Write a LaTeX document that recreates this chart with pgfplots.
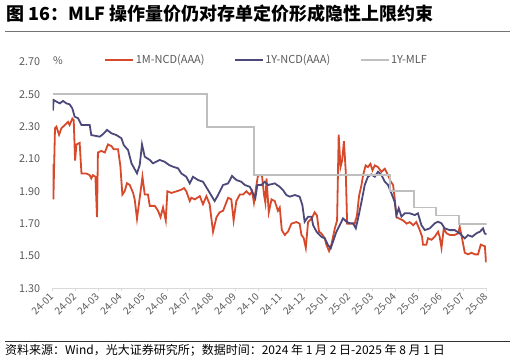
\documentclass[border=0pt]{standalone}
\usepackage{fontspec}
\setmainfont{Noto Sans CJK SC}
\usepackage{pgfplots}
\pgfplotsset{compat=1.18}
\definecolor{ncdred}{RGB}{214,74,43}
\definecolor{ncdnavy}{RGB}{76,73,122}
\definecolor{mlfgray}{RGB}{191,191,191}
\definecolor{txtgray}{RGB}{89,89,89}
\definecolor{axgray}{RGB}{217,217,217}

\pgfplotstableread{
x y
0.00 2.07
0.03 1.85
0.10 2.29
0.16 2.30
0.28 2.25
0.38 2.29
0.53 2.31
0.67 2.33
0.74 2.31
0.86 2.35
0.92 2.34
0.98 2.09
1.04 2.19
1.18 2.20
1.26 2.01
1.48 2.01
1.62 2.00
1.69 1.98
1.76 2.00
1.87 1.99
1.94 1.74
1.98 2.14
2.13 2.15
2.28 2.14
2.42 2.19
2.57 2.18
2.67 2.16
2.86 2.16
2.96 2.06
3.05 1.88
3.15 1.90
3.25 1.95
3.37 1.94
3.52 1.89
3.59 1.85
3.69 1.73
3.81 1.86
3.93 1.99
4.03 1.88
4.17 1.88
4.25 1.81
4.47 1.81
4.61 1.78
4.72 1.74
4.83 1.80
4.95 1.72
5.02 1.90
5.20 1.89
5.42 1.90
5.63 1.91
5.75 1.92
5.85 1.90
6.00 1.84
6.07 1.86
6.22 1.85
6.44 1.87
6.58 1.82
6.73 1.87
6.87 1.82
7.02 1.65
7.17 1.74
7.31 1.77
7.46 1.78
7.68 1.86
7.82 1.85
7.92 1.72
8.04 1.84
8.19 1.88
8.33 1.88
8.48 1.90
8.63 1.88
8.73 1.90
8.81 1.83
8.92 1.94
8.99 2.00
9.16 2.00
9.25 1.88
9.31 1.83
9.36 1.98
9.46 1.77
9.58 1.85
9.72 1.84
9.86 1.78
9.94 1.80
10.03 1.66
10.16 1.63
10.30 1.65
10.45 1.70
10.67 1.71
10.81 1.70
10.89 1.63
10.99 1.61
11.08 1.55
11.18 1.71
11.33 1.73
11.47 1.77
11.57 1.75
11.66 1.65
11.76 1.64
11.91 1.61
11.98 1.57
12.10 1.53
12.20 1.57
12.35 1.67
12.45 1.72
12.52 2.25
12.60 2.05
12.67 2.09
12.75 2.21
12.83 2.02
12.89 1.70
13.08 1.70
13.22 1.70
13.32 1.75
13.41 1.87
13.52 1.94
13.59 2.00
13.70 2.06
13.80 2.05
13.91 2.07
14.00 2.03
14.10 2.06
14.24 2.05
14.39 2.02
14.54 2.04
14.68 2.00
14.80 1.96
14.90 1.94
14.97 1.86
15.05 1.74
15.19 1.73
15.34 1.72
15.49 1.70
15.63 1.71
15.78 1.69
15.92 1.71
16.07 1.66
16.17 1.62
16.21 1.57
16.36 1.57
16.43 1.61
16.58 1.60
16.73 1.62
16.87 1.65
16.94 1.62
17.02 1.55
17.12 1.67
17.24 1.64
17.38 1.63
17.60 1.63
17.75 1.64
17.82 1.68
17.92 1.61
18.04 1.52
18.18 1.51
18.33 1.52
18.48 1.51
18.62 1.51
18.74 1.57
18.92 1.56
18.97 1.46
}\onem

\pgfplotstableread{
x y
0.01 2.40
0.04 2.465
0.16 2.455
0.31 2.444
0.45 2.459
0.60 2.444
0.74 2.438
0.86 2.413
0.96 2.362
1.11 2.352
1.26 2.31
1.62 2.31
1.69 2.248
2.06 2.238
2.20 2.253
2.38 2.28
2.57 2.259
2.79 2.248
3.01 2.228
3.11 2.186
3.30 2.155
3.45 2.073
3.69 2.011
3.81 2.063
3.91 2.19
4.03 2.114
4.25 2.094
4.39 2.073
4.68 2.094
4.90 2.083
5.09 2.063
5.27 2.052
5.49 2.042
5.63 2.011
5.85 1.99
6.00 1.949
6.14 1.99
6.36 1.97
6.58 1.959
6.80 1.908
7.09 1.84
7.24 1.877
7.46 1.939
7.68 1.949
7.85 1.995
8.04 1.97
8.26 1.959
8.41 1.939
8.63 1.928
8.77 1.887
8.87 1.857
8.96 1.939
9.14 1.939
9.28 1.959
9.43 1.939
9.72 1.949
9.94 1.928
10.08 1.908
10.23 1.877
10.38 1.867
10.60 1.877
10.81 1.867
10.93 1.815
11.03 1.712
11.18 1.743
11.33 1.743
11.40 1.691
11.55 1.65
11.76 1.619
11.91 1.609
12.05 1.568
12.17 1.547
12.27 1.588
12.42 1.65
12.57 1.691
12.71 1.733
12.86 1.712
13.00 1.702
13.15 1.702
13.27 1.671
13.37 1.733
13.52 1.836
13.66 1.939
13.80 1.99
13.95 2.005
14.10 1.99
14.24 2.021
14.39 2.001
14.54 1.959
14.68 1.939
14.83 1.887
14.97 1.836
15.05 1.753
15.15 1.795
15.27 1.743
15.41 1.764
15.63 1.764
15.85 1.753
15.99 1.764
16.14 1.691
16.29 1.66
16.51 1.671
16.73 1.702
16.87 1.712
17.02 1.702
17.16 1.671
17.38 1.66
17.60 1.66
17.82 1.64
18.04 1.609
18.18 1.629
18.36 1.619
18.55 1.64
18.70 1.65
18.84 1.671
18.91 1.64
18.99 1.634
}\oney

\pgfplotstableread{
x y
0.01 2.50
6.77 2.30
8.80 2.00
14.77 1.90
15.80 1.80
16.78 1.75
17.77 1.70
19.00 1.70
}\mlf

\begin{document}
\begin{tikzpicture}[x=1pt,y=1pt]
\path[use as bounding box] (0,0) rectangle (515,364);
\node[anchor=base west, font=\fontsize{18}{20}\selectfont\bfseries, inner sep=0] at (6,343) {图 16：MLF 操作量价仍对存单定价形成隐性上限约束};
\draw[color=black!55, line width=0.8pt] (5,333) -- (510,333);
\draw[color=black!80, line width=0.8pt] (5,22.3) -- (510,22.3);
\node[anchor=base west, font=\fontsize{12}{14}\selectfont, inner sep=0] at (5,9) {资料来源：Wind，光大证券研究所；数据时间：2024 年 1 月 2 日-2025 年 8 月 1 日};
\node[anchor=west, text=txtgray, font=\fontsize{10.5}{12}\selectfont, inner sep=0] at (53,303.7) {\%};
\begin{axis}[
  at={(52.7pt,75.7pt)}, anchor=south west, scale only axis,
  width=434pt, height=226.3pt,
  xmin=0, xmax=19, ymin=1.3, ymax=2.7,
  axis x line*=bottom, axis y line*=left,
  x axis line style={draw=axgray, line width=0.8pt},
  y axis line style={draw=none},
  xtick={0,...,19},
  xticklabels={24-01,24-02,24-03,24-04,24-05,24-06,24-07,24-08,24-09,24-10,24-11,24-12,25-01,25-02,25-03,25-04,25-05,25-06,25-07,25-08},
  xtick style={draw=axgray, line width=0.8pt},
  ytick={1.3,1.5,...,2.71},
  ytick style={draw=none},
  tick align=outside, major tick length=3pt,
  /pgf/number format/assume math mode=true,
  /pgf/number format/.cd, fixed, fixed zerofill, precision=2, /pgfplots/.cd,
  yticklabel style={font=\fontsize{10.8}{12}\selectfont, text=txtgray, anchor=east, xshift=-6pt},
  xticklabel style={font=\fontsize{10}{12}\selectfont, text=txtgray, rotate=45, anchor=east, yshift=-2pt},
  legend columns=3,
  legend style={draw=none, fill=none, at={(0.119,1.009)}, anchor=west,
    inner xsep=0pt, inner ysep=0pt, nodes={inner sep=1.5pt},
    font=\fontsize{11}{12}\selectfont, text=txtgray,
    /tikz/every even column/.append style={column sep=28pt}},
  legend cell align=left,
  legend image code/.code={\draw[#1, line width=1.8pt] (0pt,0pt) -- (28pt,0pt);},
]
\addplot[ncdred, line width=1.8pt] table {\onem};
\addlegendentry{1M-NCD(AAA)}
\addplot[ncdnavy, line width=1.8pt] table {\oney};
\addlegendentry{1Y-NCD(AAA)}
\addplot[mlfgray, line width=1.8pt, const plot] table {\mlf};
\addlegendentry{1Y-MLF}
\end{axis}
\end{tikzpicture}
\end{document}
